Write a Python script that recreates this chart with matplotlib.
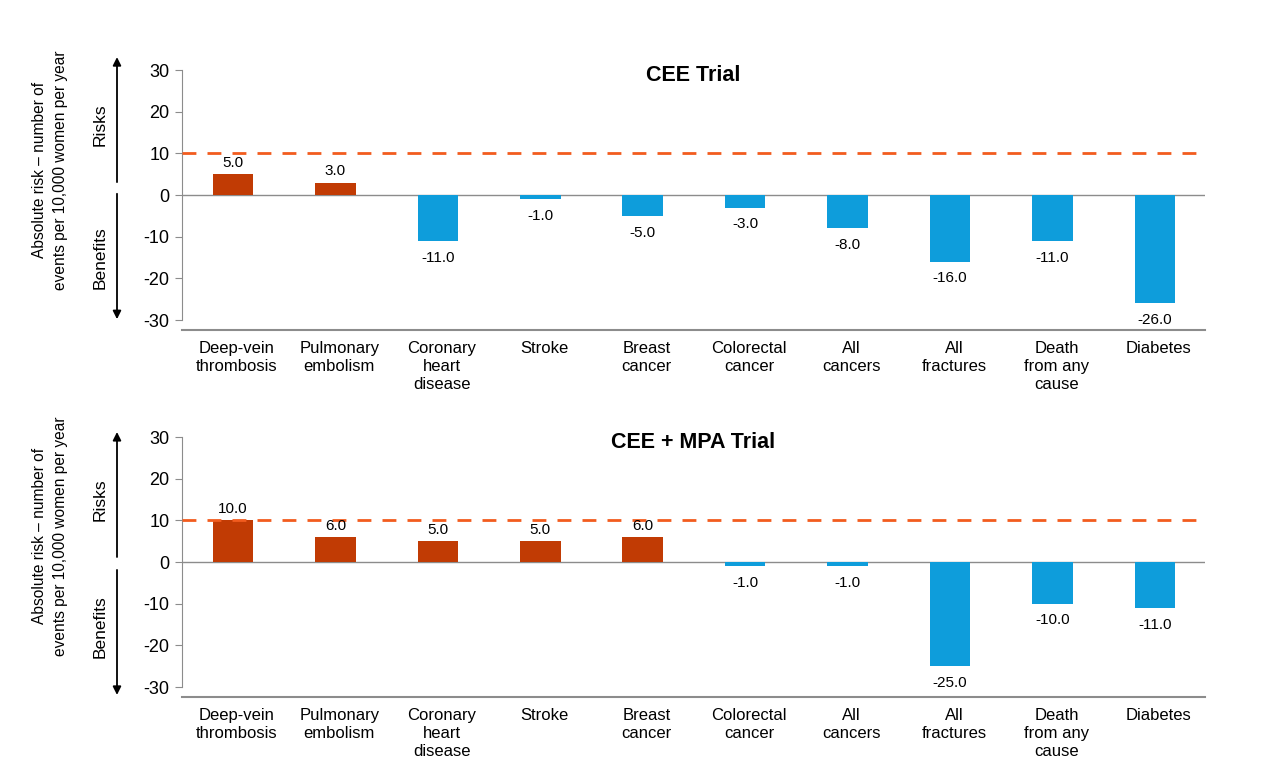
import numpy as np
import matplotlib
matplotlib.use("Agg")
import matplotlib.pyplot as plt
import matplotlib.transforms as mtransforms

plt.rcParams["font.family"] = ["Liberation Sans", "DejaVu Sans"]
plt.rcParams["axes.unicode_minus"] = False

categorias = ["Deep-vein\nthrombosis", "Pulmonary\nembolism", "Coronary\nheart\ndisease",
              "Stroke", "Breast\ncancer", "Colorectal\ncancer", "All\ncancers",
              "All\nfractures", "Death\nfrom any\ncause", "Diabetes"]
valores_cee = [5, 3, -11, -1, -5, -3, -8, -16, -11, -26]
valores_cee_mpa = [10, 6, 5, 5, 6, -1, -1, -25, -10, -11]
titulos = ["CEE Trial", "CEE + MPA Trial"]
umbral = 10
ylabel = "Absolute risk \u2013 number of\nevents per 10,000 women per year"

color_riesgo = "#C13B04"
color_beneficio = "#0E9DDB"
color_linea = "#F25C1E"
gris = "#8C8C8C"

fig = plt.figure(figsize=(12.76, 7.78), dpi=100)

# posiciones de cada panel y de las flechas (px -> datos)
paneles = [
    dict(rect=[0.1426, 0.5758, 0.8017, 0.3449], valores=valores_cee,
         flecha_r=(33.1, 3.1), flecha_b=(0.3, -29.8), txt_r=16.8, txt_b=-15.1, ylab=6.0),
    dict(rect=[0.1426, 0.1041, 0.8017, 0.3449], valores=valores_cee_mpa,
         flecha_r=(31.2, 1.2), flecha_b=(-1.9, -31.9), txt_r=14.9, txt_b=-15.6, ylab=6.2),
]

x = np.arange(len(categorias))
for titulo, p in zip(titulos, paneles):
    ax = fig.add_axes(p["rect"])
    vals = np.array(p["valores"])
    colores = [color_riesgo if v > 0 else color_beneficio for v in vals]
    ax.bar(x, vals, width=0.396, color=colores, zorder=3)

    ax.set_xlim(-0.498, 9.488)
    ax.set_ylim(-32.4, 32)
    ax.axhline(0, color=gris, linewidth=1, zorder=2)
    ax.axhline(umbral, color=color_linea, linestyle=(0, (5, 4)), linewidth=2, zorder=4)

    for xi, v in zip(x, vals):
        if v > 0:
            ax.annotate(f"{v:.1f}", (xi, v), xytext=(0, 8), textcoords="offset points",
                        ha="center", va="center", fontsize=11, zorder=5)
        else:
            ax.annotate(f"{v:.1f}", (xi, v), xytext=(0, -12), textcoords="offset points",
                        ha="center", va="center", fontsize=11, zorder=5)

    for s in ["top", "right"]:
        ax.spines[s].set_visible(False)
    ax.spines["left"].set_bounds(-30, 30)
    ax.spines["left"].set_color(gris)
    ax.spines["bottom"].set_color(gris)
    ax.spines["bottom"].set_linewidth(1.5)
    ax.set_yticks(np.arange(-30, 31, 10))
    ax.tick_params(axis="y", labelsize=13, color=gris, length=5, pad=4)
    ax.set_xticks(x)
    ax.set_xticklabels(categorias, fontsize=12, linespacing=1.25)
    ax.tick_params(axis="x", length=0, pad=8)
    desplazamiento = mtransforms.ScaledTranslation(4 / 100, 0, fig.dpi_scale_trans)
    for lbl in ax.get_xticklabels():
        lbl.set_transform(lbl.get_transform() + desplazamiento)

    ax.text(0.5, 28.6, titulo, transform=ax.get_yaxis_transform(), ha="center",
            va="center", fontsize=15.5, fontweight="bold")

    # flechas de riesgos / beneficios
    trans = ax.get_yaxis_transform()
    xa = -0.0635
    ax.annotate("", xy=(xa, p["flecha_r"][0]), xytext=(xa, p["flecha_r"][1]),
                xycoords=trans, textcoords=trans,
                arrowprops=dict(arrowstyle="-|>", color="black", lw=1.3,
                                mutation_scale=12, shrinkA=0, shrinkB=0))
    ax.annotate("", xy=(xa, p["flecha_b"][1]), xytext=(xa, p["flecha_b"][0]),
                xycoords=trans, textcoords=trans,
                arrowprops=dict(arrowstyle="-|>", color="black", lw=1.3,
                                mutation_scale=12, shrinkA=0, shrinkB=0))
    ax.text(-0.08, p["txt_r"], "Risks", transform=trans, rotation=90,
            ha="center", va="center", fontsize=12.5)
    ax.text(-0.08, p["txt_b"], "Benefits", transform=trans, rotation=90,
            ha="center", va="center", fontsize=12.5)
    ax.text(-0.129, p["ylab"], ylabel, transform=trans, rotation=90,
            ha="center", va="center", fontsize=11.2, linespacing=1.5)

fig.savefig("out.png", dpi=100)
